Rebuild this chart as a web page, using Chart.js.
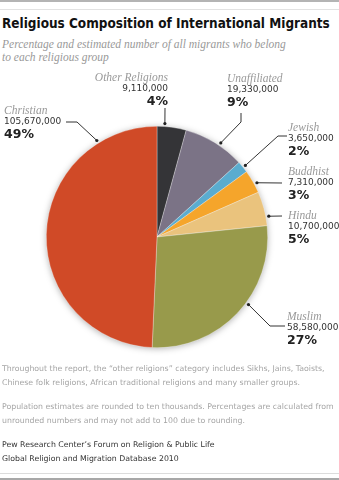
<!DOCTYPE html>
<html>
<head>
<meta charset="utf-8">
<script src="https://cdn.jsdelivr.net/npm/chart.js@4/dist/chart.umd.min.js"></script>
<style>
  html, body { margin: 0; padding: 0; background: #fff; }
  #wrap { position: relative; width: 339px; height: 480px; overflow: hidden; }
  #pie { position: absolute; left: 0; top: 0; }
  .rule { position: absolute; left: 0; width: 339px; }
  h1 { position: absolute; left: 2px; top: 15px; margin: 0; font: bold 14.5px "DejaVu Sans", sans-serif; color: #111; white-space: nowrap; transform-origin: 0 0; }
  .sub { position: absolute; left: 2px; top: 38px; font: italic 11.5px/13px "Liberation Serif", serif; color: #999; }
  .lbl { position: absolute; white-space: nowrap; }
  .lbl .n { font: italic 11.5px/12px "Liberation Serif", serif; color: #999; }
  .lbl .v { font: 9px/11px "DejaVu Sans", sans-serif; color: #333; }
  .lbl .p { font: bold 12.5px/14px "DejaVu Sans", sans-serif; color: #222; }
  .foot { position: absolute; left: 2px; font: 7.8px/14px "DejaVu Sans", sans-serif; color: #a5a5a5; white-space: nowrap; }
</style>
</head>
<body>
<div id="wrap">
  <div class="rule" style="top:0;height:2px;background:#b4b4b4"></div>
  <div class="rule" style="top:9px;height:1px;background:#e2e2e2"></div>
  <h1 id="title">Religious Composition of International Migrants</h1>
  <div class="sub">Percentage and estimated number of all migrants who belong<br>to each religious group</div>
  <canvas id="pie" width="339" height="480"></canvas>
  <div id="labels"></div>
  <div class="foot" style="top:362px">Throughout the report, the “other religions” category includes Sikhs, Jains, Taoists,<br>Chinese folk religions, African traditional religions and many smaller groups.</div>
  <div class="foot" style="top:400px">Population estimates are rounded to ten thousands. Percentages are calculated from<br>unrounded numbers and may not add to 100 due to rounding.</div>
  <div class="foot" style="top:438px;color:#333">Pew Research Center’s Forum on Religion &amp; Public Life<br>Global Religion and Migration Database 2010</div>
  <div class="rule" style="top:473px;height:1px;background:#dcdcdc"></div>
  <div class="rule" style="top:478px;height:2px;background:#a8a8a8"></div>
</div>
<script>
const religions = ['Other Religions', 'Unaffiliated', 'Jewish', 'Buddhist', 'Hindu', 'Muslim', 'Christian'];
const migrants = [9110000, 19330000, 3650000, 7310000, 10700000, 58580000, 105670000];
const percents = ['4%', '9%', '2%', '3%', '5%', '27%', '49%'];
const colors = ['#343437', '#7b7386', '#5aaccf', '#f5a52b', '#eac37d', '#989a4b', '#d04a27'];

// callout layout: label box, leader path from label toward the slice, where along the slice it lands
const callouts = [
  { left: 168, top: 71, align: 'right', path: [[165, 108]], frac: 0.26 },
  { left: 227, top: 72, align: 'left', path: [[241, 113], [241, 122]], frac: 0.58 },
  { left: 288, top: 121, align: 'left', path: [[287, 136], [278, 136]], frac: 0.53 },
  { left: 288, top: 165, align: 'left', path: [[282, 183]], frac: 0.62 },
  { left: 288, top: 209, align: 'left', path: [[282, 216]], frac: 0.74 },
  { left: 287, top: 310, align: 'left', path: [[285, 326], [270, 326]], frac: 0.43 },
  { left: 4, top: 104, align: 'left', path: [[66, 122], [77, 122]], frac: 0.82 }
];

// squeeze the title to the width it has in the original
const title = document.getElementById('title');
title.style.transform = 'scaleX(' + (328 / title.scrollWidth) + ')';

const labelsEl = document.getElementById('labels');
religions.forEach((name, i) => {
  const c = callouts[i];
  const d = document.createElement('div');
  d.className = 'lbl';
  d.style.top = c.top + 'px';
  d.style.textAlign = c.align;
  if (c.align === 'right') d.style.right = (339 - c.left) + 'px';
  else d.style.left = c.left + 'px';
  d.innerHTML = '<div class="n">' + name + '</div><div class="v">' +
    migrants[i].toLocaleString('en-US') + '</div><div class="p">' + percents[i] + '</div>';
  labelsEl.appendChild(d);
});

const pieShadow = {
  id: 'pieShadow',
  beforeDatasetsDraw(chart) {
    const arc = chart.getDatasetMeta(0).data[0];
    if (!arc) return;
    const ctx = chart.ctx;
    ctx.save();
    ctx.shadowColor = 'rgba(0,0,0,0.35)';
    ctx.shadowBlur = 7;
    ctx.shadowOffsetY = 1;
    ctx.fillStyle = '#ccc';
    ctx.beginPath();
    ctx.arc(arc.x, arc.y, arc.outerRadius - 0.5, 0, Math.PI * 2);
    ctx.fill();
    ctx.restore();
  }
};

const leaders = {
  id: 'leaders',
  afterDatasetsDraw(chart) {
    const ctx = chart.ctx;
    const arcs = chart.getDatasetMeta(0).data;
    ctx.save();
    ctx.strokeStyle = '#333';
    ctx.fillStyle = '#222';
    ctx.lineWidth = 1;
    arcs.forEach((arc, i) => {
      const c = callouts[i];
      const a = arc.startAngle + c.frac * (arc.endAngle - arc.startAngle);
      const r = arc.outerRadius + 3;
      const ax = arc.x + r * Math.cos(a);
      const ay = arc.y + r * Math.sin(a);
      ctx.beginPath();
      ctx.moveTo(c.path[0][0], c.path[0][1]);
      for (let k = 1; k < c.path.length; k++) ctx.lineTo(c.path[k][0], c.path[k][1]);
      ctx.lineTo(ax, ay);
      ctx.stroke();
      ctx.beginPath();
      ctx.arc(ax, ay, 1.6, 0, Math.PI * 2);
      ctx.fill();
    });
    ctx.restore();
  }
};

new Chart(document.getElementById('pie').getContext('2d'), {
  type: 'pie',
  data: {
    labels: religions,
    datasets: [{
      data: migrants,
      backgroundColor: colors,
      borderColor: 'rgba(255,255,255,0.5)',
      borderWidth: 0.6
    }]
  },
  options: {
    responsive: false,
    animation: false,
    layout: { padding: { left: 46, right: 71, top: 126, bottom: 132 } },
    plugins: { legend: { display: false }, tooltip: { enabled: false } }
  },
  plugins: [pieShadow, leaders]
});
</script>
</body>
</html>
